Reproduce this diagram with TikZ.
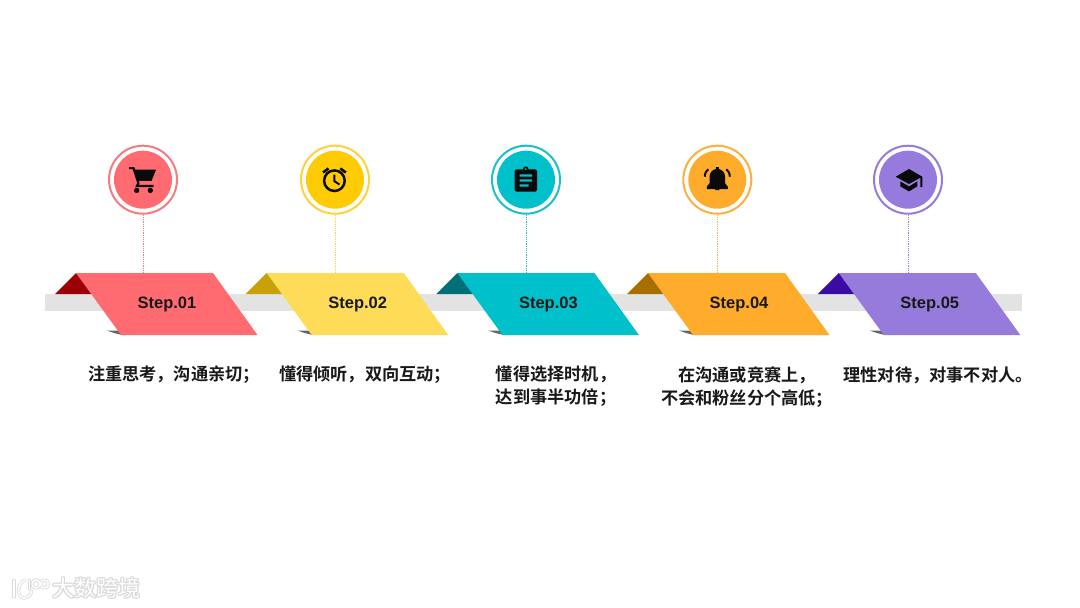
\documentclass[tikz,border=0pt]{standalone}
\usepackage{fontspec}
\setmainfont{Liberation Sans}
\newfontfamily\cjkfont{Noto Sans CJK SC}[BoldFont={Noto Sans CJK SC Bold}]
\newfontfamily\cjklight{Noto Sans CJK SC}
\definecolor{c1}{HTML}{FF6B70}\definecolor{d1}{HTML}{9C0006}\definecolor{r1}{HTML}{F47C80}
\definecolor{c2}{HTML}{FFDC58}\definecolor{d2}{HTML}{C8A00A}\definecolor{r2}{HTML}{FFD23C}
\definecolor{c3}{HTML}{00C1CB}\definecolor{d3}{HTML}{006F78}\definecolor{r3}{HTML}{1CBFCB}
\definecolor{c4}{HTML}{FFAB2C}\definecolor{d4}{HTML}{A96E00}\definecolor{r4}{HTML}{FBB040}
\definecolor{c5}{HTML}{967BDC}\definecolor{d5}{HTML}{3A0CA3}\definecolor{r5}{HTML}{967BDC}
\definecolor{f1}{HTML}{FF6B70}\definecolor{f2}{HTML}{FFCB05}\definecolor{f3}{HTML}{00C1CB}\definecolor{f4}{HTML}{FFAB2C}\definecolor{f5}{HTML}{967BDC}
\definecolor{barc}{HTML}{E3E3E3}
\definecolor{icon}{HTML}{0A0A0A}
\definecolor{wmc}{HTML}{DADADA}
\tikzset{
  ringnode/.style={circle,draw,line width=2pt,minimum size=68pt,inner sep=0pt},
  discnode/.style={circle,minimum size=58pt,inner sep=0pt},
  steplabel/.style={font=\fontsize{16.5}{18}\selectfont\bfseries,text=black!90},
  desc/.style={font=\cjkfont\bfseries\fontsize{17.2}{23}\selectfont,align=center,text=black!90,inner sep=0pt},
  stem/.style={line width=1pt,dash pattern=on 1.2pt off 1pt},
  iconline/.style={draw=icon,line width=2pt,fill=none},
  wmunder/.style={draw=wmc,line width=3.2pt,line cap=round,line join=round},
  wmover/.style={draw=white,line width=1.6pt,line cap=round,line join=round},
}
\newcommand{\wmtext}[2]{\node[font=\cjklight\fontsize{22}{23}\selectfont,text=#1,inner sep=0pt] at #2 {大数跨境};}
\begin{document}
\begin{tikzpicture}[x=1pt,y=-1pt]
\useasboundingbox (0,0) rectangle (1080,608);
\fill[white] (0,0) rectangle (1080,608);
\fill[barc] (45,294) rectangle (1022,311);
\foreach \i/\xx/\cx in {1/76/143,2/266.7/335,3/457.4/526,4/648/717.3,5/838.8/908}{
  \fill[d\i] (\xx-21,294) -- (\xx,273) -- (\xx+21,294) -- cycle;
  \fill[black!60] (\xx+31,330.6) -- (\xx+44,330.6) -- (\xx+46,335) -- (\xx+38,333) -- cycle;
  \fill[c\i] (\xx,273) -- (\xx+137,273) -- (\xx+181.5,335) -- (\xx+45,335) -- cycle;
  \node[steplabel] (step\i) at (\xx+91,304.5) {Step.0\i};
  \coordinate (top\i) at (\cx,273);
  \node[ringnode,draw=r\i] (ring\i) at (\cx,179.7) {};
  \node[discnode,fill=f\i] (disc\i) at (\cx,179.7) {};
  \draw[stem,draw=r\i] (ring\i.south) -- (top\i);
}
% cart
\begin{scope}[shift={(disc1.center)}]
  \draw[draw=icon,line width=2.2pt] (-14,-11.6) -- (-9.5,-11.6) -- (-4.6,3.5) -- (-6,6.2) -- (10.5,6.2);
  \fill[icon] (-9.5,-10) -- (13,-10) -- (8.5,1.2) -- (-5.5,1.2) -- cycle;
  \fill[icon] (-6.3,10.7) circle (2.7) (7.3,10.7) circle (2.7);
\end{scope}
% clock
\begin{scope}[shift={(disc2.center)}]
  \draw[iconline,line width=2.5pt] (-0.6,1) circle (10.3);
  \draw[iconline,line width=2pt] (-0.6,-5) -- (-0.6,1.5) -- (4.5,4.8);
  \draw[iconline,line width=2.6pt] (-12,-7.2) -- (-6.5,-11.2) (10.8,-7.2) -- (5.3,-11.2);
\end{scope}
% clipboard
\begin{scope}[shift={(disc3.center)}]
  \fill[icon,rounded corners=1.5pt] (-11.3,-10.4) rectangle (11,12);
  \fill[icon] (-0.2,-10.5) circle (2.8);
  \fill[f3] (-0.2,-10.6) circle (1);
  \fill[f3] (-6.5,-5.4) rectangle (6,-3) (-6.5,-0.4) rectangle (6,2) (-6.5,4.6) rectangle (2.7,7);
\end{scope}
% bell
\begin{scope}[shift={(disc4.center)}]
  \fill[icon] (-10.5,9.3) -- (-10.5,7) -- (-7.8,3.5) -- (-7.8,-3) .. controls (-7.8,-7.5) and (-4.5,-10) .. (-1.5,-10.7) -- (-1.5,-12.7) -- (1.5,-12.7) -- (1.5,-10.7) .. controls (4.5,-10) and (7.8,-7.5) .. (7.8,-3) -- (7.8,3.5) -- (10.5,7) -- (10.5,9.3) -- cycle;
  \fill[icon] (-2.3,10.4) -- (2.3,10.4) arc (0:-180:2.3 and 2.2) -- cycle;
  \draw[draw=icon,line width=2pt] (-12.5,-3) .. controls (-12.5,-6.5) and (-11,-9) .. (-9,-10.5);
  \draw[draw=icon,line width=2pt] (12.5,-3) .. controls (12.5,-6.5) and (11,-9) .. (9,-10.5);
\end{scope}
% graduation cap
\begin{scope}[shift={(disc5.center)}]
  \fill[icon] (1,-10.7) -- (-12.3,-3) -- (1,4.3) -- (12.3,-2) -- (12.3,7.3) -- (14.3,7.3) -- (14.3,-3) -- cycle;
  \fill[icon] (-7.7,1.7) -- (-7.7,6.7) -- (1,11.7) -- (9.3,6.7) -- (9.3,1.7) -- (1,6.7) -- cycle;
\end{scope}
% descriptions
\node[desc] (t1) at (174,375) {注重思考，沟通亲切；};
\node[desc] (t2) at (365,375) {懂得倾听，双向互动；};
\node[desc,anchor=north] (t3) at (556,366) {懂得选择时机，\\达到事半功倍；};
\node[desc,anchor=north] (t4) at (747,366) {在沟通或竞赛上，\\不会和粉丝分个高低；};
\node[desc] (t5) at (938,375) {理性对待，对事不对人。};
% watermark
\foreach \dx/\dy in {-.8/0,.8/0,0/-.8,0/.8,.7/.7,-.7/-.7,.7/-.7,-.7/.7}{\wmtext{wmc}{(96.5+\dx,588+\dy)}}
\wmtext{white}{(96.5,588)}
\foreach \sty in {wmunder,wmover}{
  \draw[\sty] (14,580.5) -- (14,597);
  \draw[\sty] (25,580) .. controls (16,584) and (17,598) .. (24,598) .. controls (28,598) and (31,595) .. (31.5,591);
  \draw[\sty] (29.5,580) -- (29.5,589);
  \draw[\sty] (36,584) circle (4);
  \draw[\sty] (44.5,584) circle (4);
}
\end{tikzpicture}
\end{document}
